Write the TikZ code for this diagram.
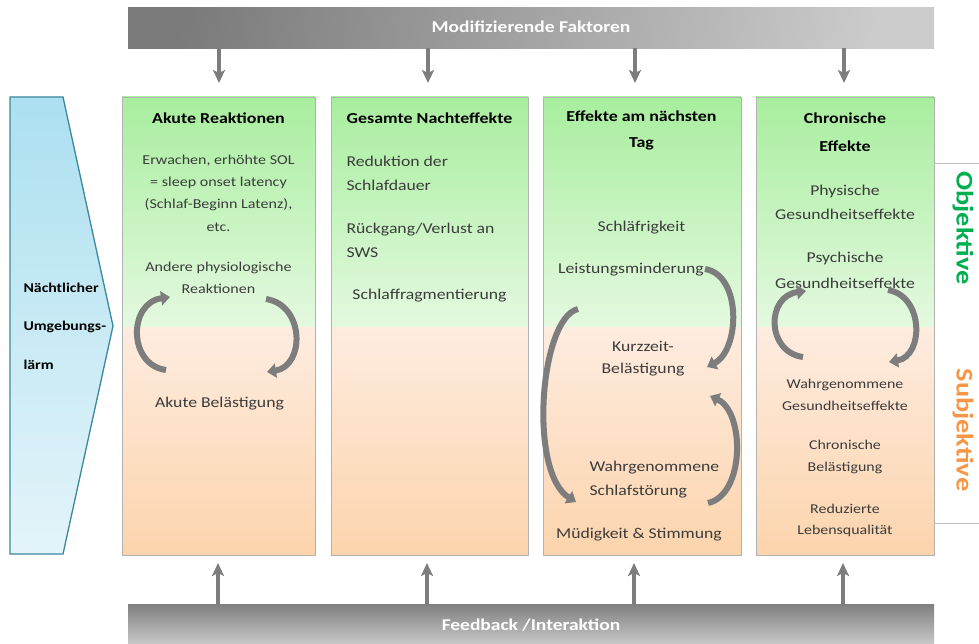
\documentclass[tikz,border=0pt]{standalone}
\usepackage{fontspec}
\setmainfont{Carlito}[FakeStretch=1.18]
\usetikzlibrary{arrows.meta,calc}
\definecolor{gtop}{RGB}{168,238,158}
\definecolor{gbot}{RGB}{228,249,224}
\definecolor{otop}{RGB}{254,236,224}
\definecolor{obot}{RGB}{252,212,172}
\definecolor{btop}{RGB}{172,224,240}
\definecolor{bbot}{RGB}{228,244,250}
\definecolor{bline}{RGB}{60,135,155}
\definecolor{arrgray}{RGB}{125,125,125}
\definecolor{txtgray}{RGB}{60,60,60}
\definecolor{objgreen}{RGB}{0,176,80}
\definecolor{subjorange}{RGB}{247,150,70}
\tikzset{
  greenpart/.style={inner sep=0pt, outer sep=0pt, anchor=north west, top color=gtop, bottom color=gbot, draw=none},
  orangepart/.style={inner sep=0pt, outer sep=0pt, anchor=north west, top color=otop, bottom color=obot, draw=none},
  colframe/.style={draw=black!30, line width=0.6pt},
  sarrow/.style={draw=arrgray, line width=3.5pt, -{Stealth[width=12pt,length=13pt,inset=3pt]}},
  carrow/.style={draw=arrgray, line width=6pt, -{Triangle[width=14pt,length=9pt]}},
  ttl/.style={font=\bfseries\fontsize{15.2}{26}\selectfont, align=center, text=black},
  body/.style={font=\fontsize{15}{24}\selectfont, align=center, text=txtgray},
  bodyone/.style={font=\fontsize{13.6}{22.4}\selectfont, align=center, text=txtgray},
  small/.style={font=\fontsize{13.5}{21.5}\selectfont, align=center, text=txtgray},
  bartxt/.style={font=\bfseries\fontsize{16.5}{18}\selectfont, text=white},
}
\begin{document}
\begin{tikzpicture}[x=1pt,y=-1pt]
\useasboundingbox (0,0) rectangle (979,644);
% top and bottom bars
\node[inner sep=0pt, anchor=north west, minimum width=806pt, minimum height=41pt, left color=black!52, right color=black!20, shading angle=80] (mod) at (128,7) {};
\node[bartxt] (modt) at (531,27) {Modifizierende Faktoren};
\node[inner sep=0pt, anchor=north west, minimum width=806pt, minimum height=42pt, top color=black!50, bottom color=black!20] (fb) at (128,604) {};
\node[bartxt] (fbt) at (531,625) {Feedback /Interaktion};
% left input shape
\coordinate (L1) at (10,97);
\coordinate (L2) at (63,97);
\coordinate (L3) at (113,326);
\coordinate (L4) at (63,554);
\coordinate (L5) at (10,554);
\path[top color=btop, bottom color=bbot] (L1) -- (L2) -- (L3) -- (L4) -- (L5) -- cycle;
\draw[draw=bline, line width=1.3pt, line join=miter] (L1) -- (L2) -- (L3) -- (L4) -- (L5) -- cycle;
\node[font=\bfseries\fontsize{13.4}{38.5}\selectfont, align=left, anchor=west, text=black] (src) at (20,326) {Nächtlicher\\Umgebungs-\\lärm};
% columns
\node[greenpart, minimum width=193pt, minimum height=230pt] (g1) at (122,97) {};
\node[orangepart, minimum width=193pt, minimum height=228pt] (o1) at (122,327) {};
\node[greenpart, minimum width=197pt, minimum height=230pt] (g2) at (331,97) {};
\node[orangepart, minimum width=197pt, minimum height=228pt] (o2) at (331,327) {};
\node[greenpart, minimum width=198pt, minimum height=230pt] (g3) at (543,97) {};
\node[orangepart, minimum width=198pt, minimum height=228pt] (o3) at (543,327) {};
\node[greenpart, minimum width=178pt, minimum height=230pt] (g4) at (756,97) {};
\node[orangepart, minimum width=178pt, minimum height=228pt] (o4) at (756,327) {};
\foreach \c in {1,2,3,4}{\draw[colframe] (g\c.north west) rectangle (o\c.south east);}
% right side lines and labels
\coordinate (r1) at (979,163);
\coordinate (r2) at (979,523);
\draw[draw=black!25, line width=0.8pt] (g4.north east |- r1) -- (r1);
\draw[draw=black!25, line width=0.8pt] (o4.south east |- r2) -- (r2);
\node[rotate=-90, font=\bfseries\fontsize{24}{26}\selectfont, text=objgreen] (obj) at (963,228) {Objektive};
\node[rotate=-90, font=\bfseries\fontsize{24}{26}\selectfont, text=subjorange] (subj) at (963,430) {Subjektive};
% column 1
\node[ttl] (h1) at (218.5,118) {Akute Reaktionen};
\node[bodyone] (a1) at (218.5,193) {Erwachen, erhöhte SOL\\= sleep onset latency\\(Schlaf-Beginn Latenz),\\etc.};
\node[bodyone] (a2) at (218.5,278) {Andere physiologische\\Reaktionen};
\node[body] (a3) at (219.5,404) {Akute Belästigung};
% column 2
\node[ttl] (h2) at (429.5,118) {Gesamte Nachteffekte};
\node[body, align=left, anchor=west] (b1) at (343,173) {Reduktion der\\Schlafdauer};
\node[body, align=left, anchor=west] (b2) at (343,240) {Rückgang/Verlust an\\SWS};
\node[body] (b3) at (429.5,296) {Schlaffragmentierung};
% column 3
\node[ttl] (h3) at (641.5,130) {Effekte am nächsten\\Tag};
\node[body] (c1) at (641.5,228) {Schläfrigkeit};
\node[body] (c2) at (631,270) {Leistungsminderung};
\node[body, font=\fontsize{15}{22}\selectfont] (c3) at (643,359) {Kurzzeit-\\Belästigung};
\node[body, align=left, anchor=west] (c4) at (586,480) {Wahrgenommene\\Schlafstörung};
\node[body] (c5) at (639,535) {Müdigkeit \& Stimmung};
% column 4
\node[ttl, font=\bfseries\fontsize{15.2}{28}\selectfont] (h4) at (845,132) {Chronische\\Effekte};
\node[body, font=\fontsize{15}{24}\selectfont] (d1) at (845,202) {Physische\\Gesundheitseffekte};
\node[body, font=\fontsize{15}{26}\selectfont] (d2) at (845,270) {Psychische\\Gesundheitseffekte};
\node[small] (d3) at (845,395) {Wahrgenommene\\Gesundheitseffekte};
\node[small] (d4) at (845,457) {Chronische\\Belästigung};
\node[small] (d5) at (845,520.5) {Reduzierte\\Lebensqualität};
% straight arrows from top bar and to bottom bar
\foreach \x [count=\i] in {219,428,635,844}{
  \coordinate (td\i) at (\x,83);
  \draw[sarrow] (mod.south -| td\i) -- (td\i);
  \coordinate (bu\i) at (\x-1,563);
  \draw[sarrow] (fb.north -| bu\i) -- (bu\i);
}
% curved arrows column 1
\coordinate (k1a) at (166,370);
\coordinate (k1b) at (170,297);
\draw[carrow] (k1a) .. controls (128,365) and (128,303) .. (k1b);
\coordinate (k1c) at (266,299);
\coordinate (k1d) at (267,372);
\draw[carrow] (k1c) .. controls (305,305) and (305,366) .. (k1d);
% curved arrows column 3
\coordinate (k3a) at (578,309);
\coordinate (k3b) at (576,502);
\draw[carrow] (k3a) .. controls (540,318) and (528,472) .. (k3b);
\coordinate (k3c) at (705,269);
\coordinate (k3d) at (707,367);
\draw[carrow] (k3c) .. controls (742,275) and (740,350) .. (k3d);
\coordinate (k3e) at (708,503);
\coordinate (k3f) at (710,396);
\draw[carrow] (k3e) .. controls (745,495) and (745,412) .. (k3f);
% curved arrows column 4
\coordinate (k4a) at (803,357);
\coordinate (k4b) at (806,291);
\draw[carrow] (k4a) .. controls (766,352) and (766,296) .. (k4b);
\coordinate (k4c) at (888,290);
\coordinate (k4d) at (889,362);
\draw[carrow] (k4c) .. controls (924,296) and (924,356) .. (k4d);
\end{tikzpicture}
\end{document}
